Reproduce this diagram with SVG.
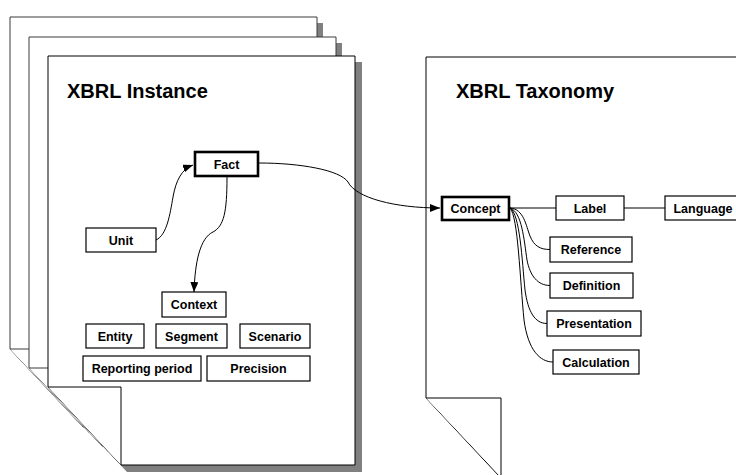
<svg xmlns="http://www.w3.org/2000/svg" width="736" height="475" viewBox="0 0 736 475">
<defs>
<style>
.shadow{fill:#808080;stroke:none}
.page{fill:#fff;stroke:#000;stroke-width:1}
.back{fill:#fff;stroke:#3a3a3a;stroke-width:1}
.box{fill:#fff;stroke:#000;stroke-width:1.2}
.thick{fill:#fff;stroke:#000;stroke-width:2.6}
.lbl{font-family:"Liberation Sans",Arial,sans-serif;font-weight:bold;font-size:12.5px;text-anchor:middle;fill:#000}
.title{font-family:"Liberation Sans",Arial,sans-serif;font-weight:bold;font-size:20px;fill:#000}
.conn{fill:none;stroke:#000;stroke-width:1}
</style>
<marker id="arr" markerUnits="userSpaceOnUse" markerWidth="10" markerHeight="8" refX="10" refY="4" orient="auto">
<path d="M0,0 L10,4 L0,8 Z" fill="#000"/>
</marker>
</defs>

<g id="page-back1">
<path class="shadow" d="M16,23 H323 V433 H89 L16,355 Z"/>
<path class="back" d="M10,17 H317 V427 H83 L10,349 Z"/>
<path class="back" d="M10,349 H83 V427"/>
</g>
<g id="page-back2">
<path class="shadow" d="M35,43 H342 V452 H108 L35,374 Z"/>
<path class="back" d="M29,37 H336 V446 H102 L29,368 Z"/>
<path class="back" d="M29,368 H102 V446"/>
</g>
<g id="page-instance">
<path class="shadow" d="M54,62 H362 V472 H127 L54,393 Z"/>
<path class="page" d="M48,56 H355 V465 H121 L48,387 Z"/>
<path class="page" d="M48,387 H121 V465"/>
<text class="title" x="67" y="98">XBRL Instance</text>
</g>
<g id="page-taxonomy">
<path class="page" d="M426,57 H740 V477 H500 L426,398 Z"/>
<path class="page" d="M426,398 H501 V477"/>
<text class="title" x="456" y="98">XBRL Taxonomy</text>
</g>

<g id="connectors">
<path class="conn" marker-end="url(#arr)" d="M156,240 C167,235 170,214 173,197 C176,180 182,169 193,165"/>
<path class="conn" marker-end="url(#arr)" d="M227,177 C227,212 224,226 213,232 C200,238 195,262 194,292"/>
<path class="conn" marker-end="url(#arr)" d="M259,163 C300,163 340,170 348,182 C356,198 395,208 440,208"/>
<path class="conn" d="M510,208 H556"/>
<path class="conn" d="M624,208 H665"/>
<path class="conn" d="M510,208 C524,209 526,226 530,236 C534,246 540,249.5 550,249.5"/>
<path class="conn" d="M510,208 C522,212 524,240 527,260 C530,276 538,285.5 550,285.5"/>
<path class="conn" d="M510,208 C520,214 522,260 525,290 C528,312 535,323.5 547,323.5"/>
<path class="conn" d="M510,208 C518,216 520,280 524,320 C528,350 540,362 553,362"/>
</g>

<g id="fact"><rect class="thick" x="195" y="152" width="63" height="24"/><text class="lbl" x="226.5" y="168.5">Fact</text></g>
<g id="unit"><rect class="box" x="86" y="228" width="70" height="24"/><text class="lbl" x="121" y="244.5">Unit</text></g>
<g id="context"><rect class="box" x="162" y="292" width="64" height="25"/><text class="lbl" x="194" y="309">Context</text></g>
<g id="entity"><rect class="box" x="86" y="324" width="58" height="24"/><text class="lbl" x="115" y="340.5">Entity</text></g>
<g id="segment"><rect class="box" x="156" y="324" width="71" height="24"/><text class="lbl" x="191.5" y="340.5">Segment</text></g>
<g id="scenario"><rect class="box" x="240" y="324" width="70" height="24"/><text class="lbl" x="275" y="340.5">Scenario</text></g>
<g id="reporting-period"><rect class="box" x="83" y="356" width="118" height="25"/><text class="lbl" x="142" y="373">Reporting period</text></g>
<g id="precision"><rect class="box" x="207" y="356" width="103" height="25"/><text class="lbl" x="258.5" y="373">Precision</text></g>

<g id="concept"><rect class="thick" x="442" y="197" width="67" height="23"/><text class="lbl" x="475.5" y="212.5">Concept</text></g>
<g id="label"><rect class="box" x="556" y="196" width="68" height="24"/><text class="lbl" x="590" y="212.5">Label</text></g>
<g id="language"><rect class="box" x="665" y="196" width="76" height="24"/><text class="lbl" x="703" y="212.5">Language</text></g>
<g id="reference"><rect class="box" x="550" y="237" width="82" height="25"/><text class="lbl" x="591" y="254">Reference</text></g>
<g id="definition"><rect class="box" x="550" y="273" width="83" height="25"/><text class="lbl" x="591.5" y="290">Definition</text></g>
<g id="presentation"><rect class="box" x="547" y="311" width="94" height="25"/><text class="lbl" x="594" y="328">Presentation</text></g>
<g id="calculation"><rect class="box" x="553" y="350" width="86" height="24"/><text class="lbl" x="596" y="366.5">Calculation</text></g>
</svg>
